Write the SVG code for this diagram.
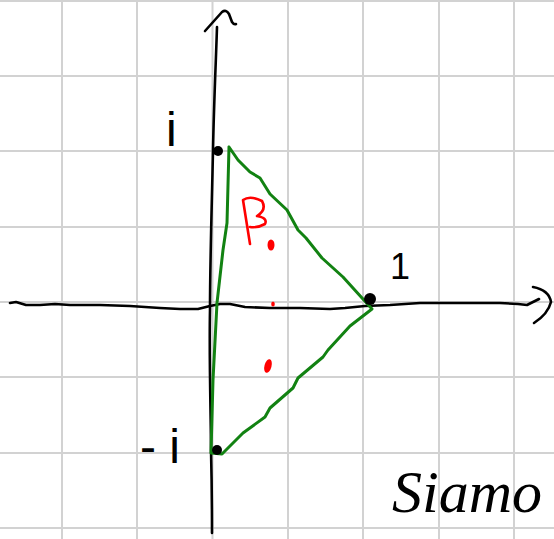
<svg xmlns="http://www.w3.org/2000/svg" width="554" height="539" viewBox="0 0 554 539">
<style>
.grid{stroke:#d2d2d2;stroke-width:2;fill:none}
.ink{stroke:#000;stroke-width:2.6;fill:none;stroke-linecap:round;stroke-linejoin:round}
.green{stroke:#128212;stroke-width:3;fill:none;stroke-linecap:round;stroke-linejoin:round}
.red{stroke:#f00;stroke-width:2.6;fill:none;stroke-linecap:round;stroke-linejoin:round}
.lbl{font-family:"Liberation Sans",Arial,sans-serif;fill:#000}
</style>
<rect width="554" height="539" fill="#fff"/>
<g id="grid" class="grid">
<path d="M62,0V539M137,0V539M212.5,0V539M288,0V539M363,0V539M439,0V539M514,0V539"/>
<path d="M0,1H554M0,76H554M0,151H554M0,227H554M0,302H554M0,377H554M0,453H554M0,528H554"/>
</g>
<g id="connectors">
<g id="x-axis">
<path class="ink" d="M10,303 L16,302 L26,305 L40,305 L55,304 L70,305 L85,305 L100,305 L130,306 L160,308 L180,309 L198,309 L210,306 L220,304 L230,304 L245,307 L270,308 L300,308 L330,309 L345,308 L365,306 L390,305 L420,303 L460,303 L500,303 L518,304 L527,305 L539,299"/>
<path class="ink" d="M533,287 Q549,290 551,302 Q548,314 534,323"/>
</g>
<g id="y-axis">
<path class="ink" d="M217,27 C216,60 214,100 213,150 C212,200 210,260 210,310 C209,360 211,420 211,450 C212,490 212,515 212,533"/>
<path class="ink" d="M205,31 L222,12 Q226,9 229,14 L232,22 Q234,25 236,24"/>
</g>
<g id="triangle">
<path class="green" d="M229,147 L238,160 L250,172 L260,178 L270,194 L287,210 L298,230 L306,238 L322,258 L343,277 L372,309 L350,326 L328,350 L323,357 L298,378 L293,388 L270,408 L265,417 L243,433 L222,454 L211,453 L213,380 L217,303 L223,250 L227,223 L229,147"/>
</g>
</g>
<g id="point-i"><circle cx="218" cy="151" r="5" fill="#000"/></g>
<g id="point-1"><circle cx="370" cy="299" r="6" fill="#000"/></g>
<g id="point-minus-i"><circle cx="217" cy="450" r="5" fill="#000"/></g>
<g id="label-i"><text class="lbl" x="166" y="146" font-size="48">i</text></g>
<g id="label-1"><text class="lbl" x="390" y="279" font-size="36">1</text></g>
<g id="label-minus-i"><text class="lbl" x="140" y="463" font-size="48">- i</text></g>
<g id="beta">
<path class="red" d="M250,244 L243,200 Q250,195 262,201 Q267,210 257,216 Q268,218 265,224 Q258,228 250,227"/>
<ellipse cx="271" cy="245" rx="3.5" ry="5.5" fill="#f00"/>
<ellipse cx="273" cy="304" rx="1.8" ry="2.5" fill="#f00"/>
<ellipse cx="268" cy="366" rx="3.5" ry="7" fill="#f00" transform="rotate(15 268 366)"/>
</g>
<g id="signature"><text x="392" y="512" font-family="'Liberation Serif',serif" font-style="italic" font-size="60" fill="#000">Siamo</text></g>
</svg>
